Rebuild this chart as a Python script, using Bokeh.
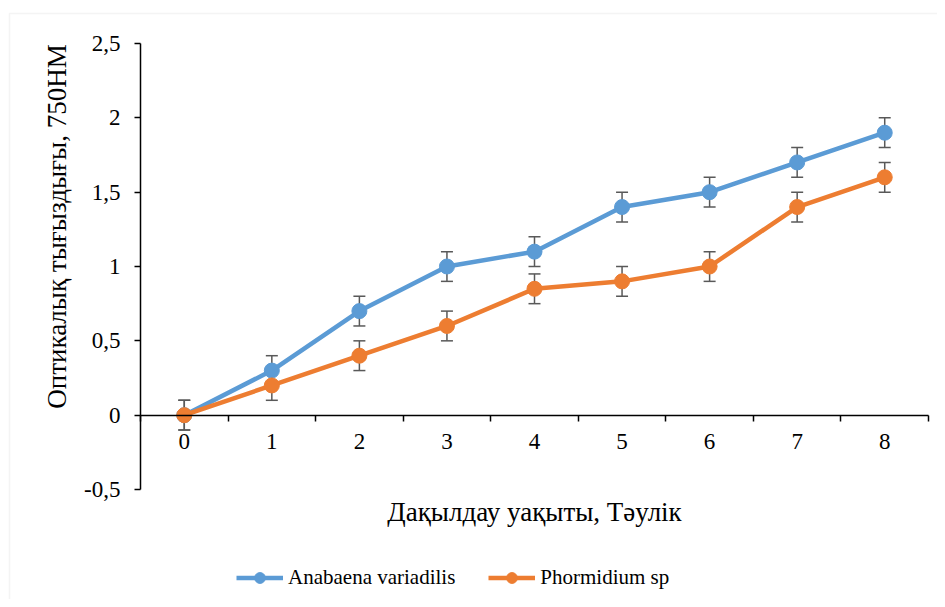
from bokeh.plotting import figure
from bokeh.models import (Range1d, LinearAxis, FixedTicker, Whisker, TeeHead, ColumnDataSource,
                          Legend, LegendItem, Label, BoxAnnotation)
from bokeh.embed import file_html
from bokeh.resources import INLINE

# ---- data ----
days = [0, 1, 2, 3, 4, 5, 6, 7, 8]
anabaena = [0, 0.3, 0.7, 1.0, 1.1, 1.4, 1.5, 1.7, 1.9]
anabaena_err = [0.1, 0.1, 0.1, 0.1, 0.1, 0.1, 0.1, 0.1, 0.1]
phormidium = [0, 0.2, 0.4, 0.6, 0.85, 0.9, 1.0, 1.4, 1.6]
phormidium_err = [0.1, 0.1, 0.1, 0.1, 0.1, 0.1, 0.1, 0.1, 0.1]
y_ticks = [-0.5, 0, 0.5, 1, 1.5, 2, 2.5]
series_names = ["Anabaena variadilis", "Phormidium sp"]
x_title = "Дақылдау уақыты, Тәулік"
y_title = "Оптикалық тығыздығы, 750НМ"

BLUE = "#5B9BD5"
ORANGE = "#ED7D31"
ERR = "#595959"
FONT = "Liberation Serif"

# ---- layout (pixels in the canvas) ----
W, H = 937, 599
PX_L, PX_R = 140, 928      # plot area left / right
PY_T, PY_B = 43, 489       # plot area top / bottom
x_lo, x_hi = days[0] - 0.5, days[-1] + 0.5
y_lo, y_hi = y_ticks[0], y_ticks[-1]
SX = (PX_R - PX_L) / (x_hi - x_lo)
SY = (PY_B - PY_T) / (y_hi - y_lo)


def dx(px):
    return x_lo + (px - PX_L) / SX


def dy(py):
    return y_hi - (py - PY_T) / SY


p = figure(width=W, height=H, output_backend="svg", toolbar_location=None,
           x_range=Range1d(dx(0), dx(W)), y_range=Range1d(dy(H), dy(0)),
           x_axis_location=None, y_axis_location=None,
           min_border=0, min_border_left=0, min_border_right=0, min_border_top=0, min_border_bottom=0)
p.outline_line_color = None
p.xgrid.visible = False
p.ygrid.visible = False
p.background_fill_color = "white"
p.border_fill_color = "white"

# y axis
ya = LinearAxis(fixed_location=x_lo, bounds=(y_lo, y_hi), ticker=FixedTicker(ticks=y_ticks),
                major_label_overrides={t: str(t).replace(".0", "").replace(".", ",") for t in y_ticks},
                major_tick_out=6, major_tick_in=0, minor_tick_line_color=None,
                axis_line_color="black", axis_line_width=1.5,
                major_tick_line_color="black", major_tick_line_width=1.5,
                major_label_text_font=FONT, major_label_text_font_size="23px",
                major_label_text_color="black", major_label_standoff=14)
p.add_layout(ya, "left")

# x axis line at y = 0 with ticks at category boundaries
bounds = [d - 0.5 for d in days] + [days[-1] + 0.5]
ax_line = LinearAxis(fixed_location=0, bounds=(x_lo, x_hi), ticker=FixedTicker(ticks=bounds),
                     major_label_text_color=None, major_tick_out=6, major_tick_in=0,
                     minor_tick_line_color=None, axis_line_color="black", axis_line_width=1.5,
                     major_tick_line_color="black", major_tick_line_width=1.5)
p.add_layout(ax_line, "below")
ax_lab = LinearAxis(fixed_location=0, ticker=FixedTicker(ticks=days),
                    major_tick_line_color=None, minor_tick_line_color=None, axis_line_color=None,
                    major_tick_out=0, major_tick_in=0, major_label_standoff=19,
                    major_label_text_font=FONT, major_label_text_font_size="23px",
                    major_label_text_color="black")
p.add_layout(ax_lab, "below")

# error bars
for vals, errs in ((anabaena, anabaena_err), (phormidium, phormidium_err)):
    src = ColumnDataSource(dict(x=days, upper=[v + e for v, e in zip(vals, errs)],
                                lower=[v - e for v, e in zip(vals, errs)]))
    w = Whisker(source=src, base="x", upper="upper", lower="lower", line_color=ERR, line_width=1.5,
                upper_head=TeeHead(size=12, line_color=ERR, line_width=1.5),
                lower_head=TeeHead(size=12, line_color=ERR, line_width=1.5))
    p.add_layout(w)

items = []
for vals, color, name in ((anabaena, BLUE, series_names[0]), (phormidium, ORANGE, series_names[1])):
    ln = p.line(days, vals, line_color=color, line_width=4.5)
    sc = p.scatter(days, vals, size=15, fill_color=color, line_color=color)
    items.append(LegendItem(label=name, renderers=[ln, sc]))

legend = Legend(items=items, orientation="horizontal", location=(236, H - 591),
                label_text_font=FONT, label_text_font_size="21px", label_text_color="black",
                glyph_width=47, glyph_height=27, spacing=33, label_standoff=5,
                padding=0, margin=0, border_line_color=None, background_fill_alpha=0)
p.add_layout(legend, "center")

# axis titles
p.add_layout(Label(x=dx(56), y=dy(226), text=y_title, angle=90, angle_units="deg",
                   text_align="center", text_baseline="middle", text_font=FONT,
                   text_font_size="27px", text_color="black"))
p.add_layout(Label(x=(days[0] + days[-1]) / 2, y=dy(511), text=x_title,
                   text_align="center", text_baseline="middle", text_font=FONT,
                   text_font_size="27px", text_color="black"))

# chart border
p.add_layout(BoxAnnotation(left=dx(9), right=dx(W + 20), top=dy(13), bottom=dy(H + 20),
                           fill_color=None, line_color="#d9d9d9", line_width=1.5, level="underlay"))

open("out.html", "w").write(file_html(p, INLINE))
